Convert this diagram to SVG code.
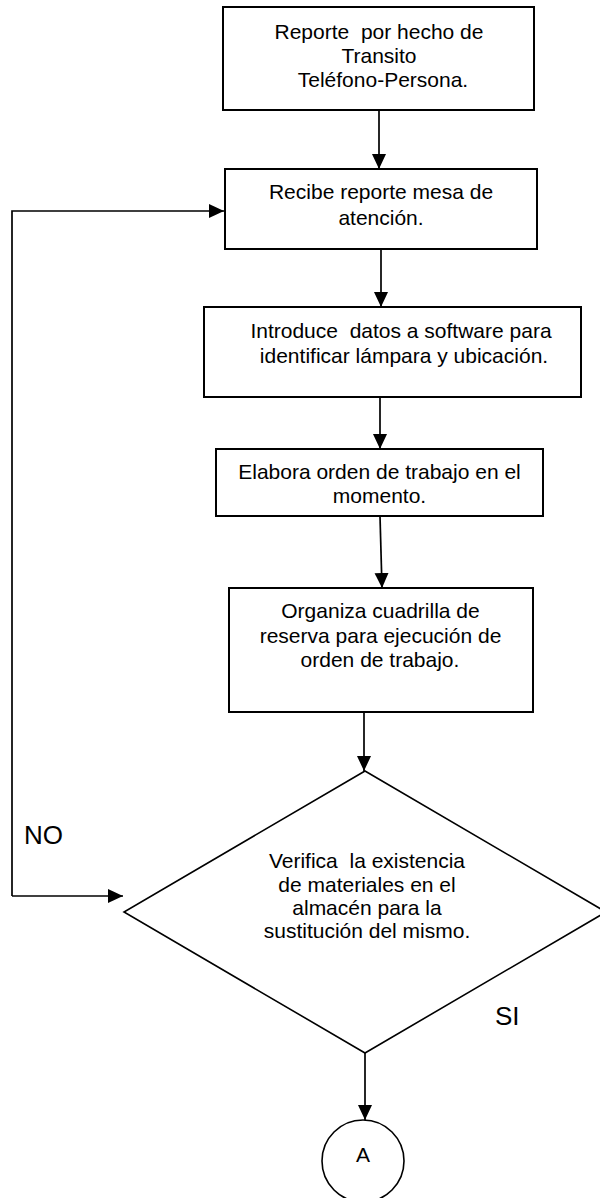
<svg xmlns="http://www.w3.org/2000/svg" width="600" height="1198" viewBox="0 0 600 1198">
<style>
.box{fill:#fff;stroke:#000;stroke-width:2}
.shape{fill:#fff;stroke:#000;stroke-width:1.6}
.conn{fill:none;stroke:#000;stroke-width:1.7}
text{font-family:"Liberation Sans",Arial,sans-serif;font-size:21px;fill:#000;text-anchor:middle;white-space:pre}
.lbl{font-size:26px;text-anchor:start}
</style>
<defs>
<marker id="arr" markerUnits="userSpaceOnUse" markerWidth="16" markerHeight="15" refX="15" refY="7" orient="auto">
<path d="M0,0 L15,7 L0,14 z" fill="#000"/>
</marker>
</defs>
<rect width="600" height="1198" fill="#fff"/>
<g id="connectors">
<path class="conn" d="M379,110 L379,169" marker-end="url(#arr)"/>
<path class="conn" d="M381,249 L381,307" marker-end="url(#arr)"/>
<path class="conn" d="M380,397 L380,449" marker-end="url(#arr)"/>
<path class="conn" d="M380,516 L382,588" marker-end="url(#arr)"/>
<path class="conn" d="M364,712 L364,771" marker-end="url(#arr)"/>
<path class="conn" d="M365,1053 L365,1120" marker-end="url(#arr)"/>
<path class="conn" d="M12,896 L12,211 L224,211" marker-end="url(#arr)"/>
<path class="conn" d="M12,896 L123,896" marker-end="url(#arr)"/>
</g>
<g id="n1">
<rect class="box" x="223" y="7" width="311" height="103"/>
<text x="379" y="39">Reporte  por hecho de</text>
<text x="379" y="63">Transito</text>
<text x="383" y="87">Teléfono-Persona.</text>
</g>
<g id="n2">
<rect class="box" x="225" y="169" width="312" height="80"/>
<text x="381" y="199">Recibe reporte mesa de</text>
<text x="381" y="225">atención.</text>
</g>
<g id="n3">
<rect class="box" x="204" y="307" width="377" height="90"/>
<text x="401" y="338">Introduce  datos a software para</text>
<text x="404" y="363">identificar lámpara y ubicación.</text>
</g>
<g id="n4">
<rect class="box" x="216" y="449" width="327" height="67"/>
<text x="379.5" y="479">Elabora orden de trabajo en el</text>
<text x="379.5" y="503">momento.</text>
</g>
<g id="n5">
<rect class="box" x="229" y="588" width="304" height="124"/>
<text x="380.5" y="618">Organiza cuadrilla de</text>
<text x="380.5" y="643">reserva para ejecución de</text>
<text x="380" y="667">orden de trabajo.</text>
</g>
<g id="decision">
<polygon class="shape" points="365,771 606,912 365,1053 124,912"/>
<text x="367" y="868">Verifica  la existencia</text>
<text x="367" y="892">de materiales en el</text>
<text x="367" y="915">almacén para la</text>
<text x="367" y="938">sustitución del mismo.</text>
</g>
<g id="labels">
<text class="lbl" x="24" y="844">NO</text>
<text class="lbl" x="495" y="1025">SI</text>
</g>
<g id="connectorA">
<circle class="shape" cx="363" cy="1161" r="41"/>
<text x="363" y="1162">A</text>
</g>
</svg>
